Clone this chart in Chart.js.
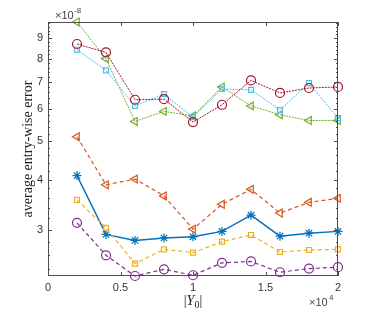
<!DOCTYPE html>
<html>
<head>
<meta charset="utf-8">
<script src="https://cdn.jsdelivr.net/npm/chart.js@4/dist/chart.umd.min.js"></script>
<style>
  html, body { margin: 0; padding: 0; background: #fff; }
  #wrap { width: 374px; height: 311px; position: relative; }
</style>
</head>
<body>
<div id="wrap"><canvas id="chart"></canvas></div>
<script>
// ── Data (values in units of 1e-8) ───────────────────
const xVals = [2000, 4000, 6000, 8000, 10000, 12000, 14000, 16000, 18000, 20000];

const blueStar     = [4.09, 2.92, 2.82, 2.86, 2.88, 2.97, 3.26, 2.89, 2.94, 2.97];
const orangeTri    = [5.11, 3.88, 4.01, 3.64, 3.01, 3.47, 3.78, 3.30, 3.51, 3.59];
const yellowSquare = [3.56, 3.03, 2.47, 2.68, 2.63, 2.80, 2.91, 2.64, 2.67, 2.68];
const purpleCircle = [3.12, 2.59, 2.30, 2.39, 2.31, 2.48, 2.50, 2.35, 2.40, 2.42];
const greenTri     = [9.87, 8.00, 5.58, 5.91, 5.76, 6.80, 6.10, 5.80, 5.61, 5.61];
const cyanSquare   = [8.42, 7.48, 6.10, 6.53, 5.72, 6.72, 6.69, 5.96, 6.95, 5.69];
const redCircle    = [8.70, 8.29, 6.32, 6.34, 5.56, 6.14, 7.06, 6.57, 6.76, 6.80];

const xTicks = [0, 5000, 10000, 15000, 20000];
const yMajor = [3, 4, 5, 6, 7, 8, 9];
const yMinor = [2.4, 2.6, 2.8, 3.2, 3.4, 3.6, 3.8, 4.2, 4.4, 4.6, 4.8, 5.2, 5.4, 5.6, 5.8,
                6.2, 6.4, 6.6, 6.8, 7.2, 7.4, 7.6, 7.8, 8.2, 8.4, 8.6, 8.8, 9.2, 9.4, 9.6, 9.8];
const yMin = 2.30, yMax = 9.87;

const E = 1e-8;
const pts = arr => arr.map((v, i) => ({ x: xVals[i], y: v * E }));

// ── Series ────────────────────────────────────────────
function series(data, color, style, dash, width, extra) {
  return Object.assign({
    data: pts(data),
    borderColor: color,
    backgroundColor: 'rgba(0,0,0,0)',
    pointBorderColor: color,
    pointBackgroundColor: 'rgba(0,0,0,0)',
    pointStyle: style,
    pointRadius: 4,
    pointBorderWidth: 1.2,
    borderWidth: width,
    borderDash: dash,
    tension: 0,
    clip: false,
  }, extra || {});
}

const datasets = [
  series(blueStar,     '#0072BD', 'star',     [],     1.4, { pointRadius: 4.5, order: 7 }),
  series(orangeTri,    '#D95319', 'triangle', [4, 3], 1.2, { pointRotation: -90, pointRadius: 4.5, order: 6 }),
  series(yellowSquare, '#EDB120', 'rect',     [4, 3], 1.2, { pointRadius: 3.5, order: 5 }),
  series(purpleCircle, '#7E2F8E', 'circle',   [4, 3], 1.2, { pointRadius: 4.5, order: 4 }),
  series(greenTri,     '#77AC30', 'triangle', [2, 1], 1,   { pointRotation: -90, pointRadius: 4.5, order: 3 }),
  series(cyanSquare,   '#4DBEEE', 'rect',     [2, 1], 1,   { pointRadius: 3.5, order: 2 }),
  series(redCircle,    '#A2142F', 'circle',   [2, 1], 1,   { pointRadius: 4.5, order: 1 }),
];

// ── Box, inner ticks, titles ─────────────────────────
const axisColor = '#4d4d4d';
const sans = '"Liberation Sans", Arial, sans-serif';
const serif = '"Liberation Serif", "DejaVu Serif", serif';

const matlabAxes = {
  id: 'matlabAxes',
  afterDatasetsDraw(chart) {
    const { ctx, chartArea: a, scales: { x, y } } = chart;
    ctx.save();
    ctx.strokeStyle = axisColor;
    ctx.lineWidth = 1;
    ctx.setLineDash([]);
    ctx.strokeRect(a.left + 0.5, a.top + 0.5, a.right - a.left - 1, a.bottom - a.top - 1);

    ctx.beginPath();
    xTicks.forEach(v => {
      const px = Math.round(x.getPixelForValue(v)) + 0.5;
      ctx.moveTo(px, a.bottom); ctx.lineTo(px, a.bottom - 4);
      ctx.moveTo(px, a.top);    ctx.lineTo(px, a.top + 4);
    });
    yMajor.forEach(v => {
      const py = Math.round(y.getPixelForValue(v * E)) + 0.5;
      ctx.moveTo(a.left, py);  ctx.lineTo(a.left + 4, py);
      ctx.moveTo(a.right, py); ctx.lineTo(a.right - 4, py);
    });
    yMinor.forEach(v => {
      const py = Math.round(y.getPixelForValue(v * E)) + 0.5;
      ctx.moveTo(a.left, py);  ctx.lineTo(a.left + 2, py);
      ctx.moveTo(a.right, py); ctx.lineTo(a.right - 2, py);
    });
    ctx.stroke();

    // exponent labels
    ctx.fillStyle = '#444';
    ctx.textBaseline = 'alphabetic';
    ctx.textAlign = 'left';
    ctx.font = '11px ' + sans;
    ctx.fillText('\u00d710', 55, 19);
    ctx.font = '8px ' + sans;
    ctx.fillText('-8', 74, 13);
    ctx.font = '11px ' + sans;
    ctx.fillText('\u00d710', 309, 306);
    ctx.font = '8px ' + sans;
    ctx.fillText('4', 329, 300);

    // x title |Y0|
    ctx.fillStyle = '#222';
    const cx = (a.left + a.right) / 2;
    ctx.font = '14px ' + serif;
    const wBar = ctx.measureText('|').width;
    ctx.font = 'italic 14px ' + serif;
    const wY = ctx.measureText('Y').width;
    ctx.font = '10px ' + serif;
    const w0 = ctx.measureText('0').width;
    let sx = cx - (2 * wBar + wY + w0) / 2;
    ctx.font = '14px ' + serif;
    ctx.fillText('|', sx, 305);
    ctx.font = 'italic 14px ' + serif;
    ctx.fillText('Y', sx + wBar, 305);
    ctx.font = '10px ' + serif;
    ctx.fillText('0', sx + wBar + wY, 308);
    ctx.font = '14px ' + serif;
    ctx.fillText('|', sx + wBar + wY + w0, 305);

    // y title
    ctx.translate(32, (a.top + a.bottom) / 2);
    ctx.rotate(-Math.PI / 2);
    ctx.textAlign = 'center';
    ctx.font = '14px ' + serif;
    ctx.fillText('average entry-wise error', 0, 0);
    ctx.restore();
  },
};

new Chart(document.getElementById('chart'), {
  type: 'line',
  data: { datasets },
  options: {
    responsive: true,
    maintainAspectRatio: false,
    animation: false,
    layout: { padding: { left: 0, right: 36, top: 22, bottom: 0 } },
    plugins: { legend: { display: false }, tooltip: { enabled: false } },
    scales: {
      x: {
        type: 'linear',
        min: 0, max: 20000,
        afterBuildTicks: s => { s.ticks = xTicks.map(v => ({ value: v })); },
        afterFit: s => { s.height = 35; },
        grid: { display: false, drawTicks: false },
        border: { display: false },
        ticks: {
          padding: 5,
          color: '#333',
          font: { family: sans, size: 11 },
          callback: v => String(v / 10000),
        },
      },
      y: {
        type: 'logarithmic',
        min: yMin * E, max: yMax * E,
        afterBuildTicks: s => { s.ticks = yMajor.map(v => ({ value: v * E })); },
        afterFit: s => { s.width = 48; },
        grid: { display: false, drawTicks: false },
        border: { display: false },
        ticks: {
          padding: 5,
          color: '#333',
          font: { family: sans, size: 11 },
          callback: v => String(Math.round(v / E)),
        },
      },
    },
  },
  plugins: [matlabAxes],
});
</script>
</body>
</html>
